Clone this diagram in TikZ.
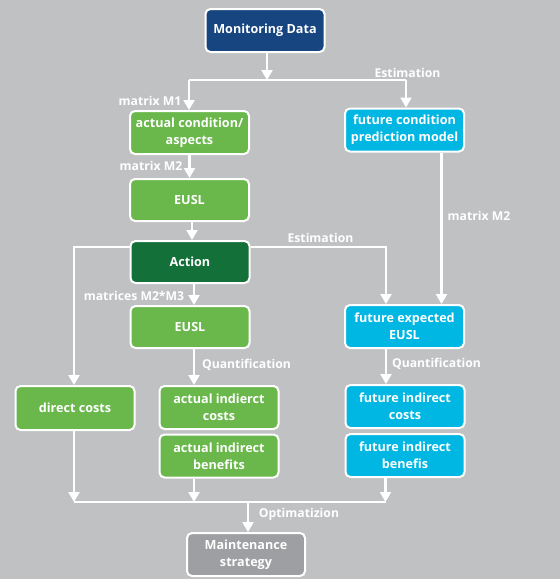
\documentclass[tikz,border=0pt]{standalone}
\usepackage{fontspec}
\setmainfont{Open Sans}
\usetikzlibrary{arrows.meta}
\definecolor{bg}{RGB}{192,193,195}
\definecolor{dblue}{RGB}{22,69,128}
\definecolor{lgreen}{RGB}{106,184,76}
\definecolor{dgreen}{RGB}{18,112,56}
\definecolor{cyanbox}{RGB}{0,182,226}
\definecolor{graybox}{RGB}{158,159,162}
\begin{document}
\begin{tikzpicture}[x=1pt,y=-1pt,
  box/.style={draw=white, line width=2pt, rounded corners=5pt, text=white,
    font=\bfseries\fontsize{12.6}{17}\selectfont, align=center, inner sep=0pt,
    minimum width=119pt, minimum height=43pt},
  lbl/.style={text=white, font=\bfseries\fontsize{12.2}{14}\selectfont, inner sep=0pt},
  arr/.style={draw=white, line width=2.2pt, -{Triangle[width=11pt,length=10pt]}},
  ln/.style={draw=white, line width=2.2pt}]
\fill[bg] (0,0) rectangle (560,579);
\useasboundingbox (0,0) rectangle (560,579);

% boxes
\node[box, fill=dblue] (md) at (265,30.5) {Monitoring Data};
\node[box, fill=lgreen] (ac) at (189.5,132.5) {actual condition/\\aspects};
\node[box, fill=cyanbox] (fc) at (404.5,130) {future condition\\prediction model};
\node[box, fill=lgreen, minimum height=42pt] (eu1) at (189.5,200) {EUSL};
\node[box, fill=dgreen, minimum height=42pt] (act) at (190,262) {Action};
\node[box, fill=lgreen, minimum height=42pt] (eu2) at (190,327) {EUSL};
\node[box, fill=cyanbox] (fe) at (404.5,326.5) {future expected\\EUSL};
\node[box, fill=lgreen, minimum height=44pt] (dc) at (75,408) {direct costs};
\node[box, fill=lgreen] (aic) at (219,407.5) {actual indierct\\costs};
\node[box, fill=lgreen] (aib) at (219,456) {actual indirect\\benefits};
\node[box, fill=cyanbox] (fic) at (405,406.5) {future indirect\\costs};
\node[box, fill=cyanbox] (fib) at (405,455.5) {future indirect\\benefis};
\node[box, fill=graybox, minimum width=118pt] (ms) at (246,554.5) {Maintenance\\strategy};

% junction coordinates
\coordinate (jm) at (267,80);
\coordinate (jl) at (189,80);
\coordinate (jr) at (406,80);
\coordinate (xa) at (189.5,0);
\coordinate (xb) at (192,0);
\coordinate (xc) at (194,0);
\coordinate (al) at (74,247);
\coordinate (ar) at (386,247);
\coordinate (fx) at (441.5,0);
\coordinate (bl) at (74,502);
\coordinate (bm) at (194,502);
\coordinate (br) at (385.5,502);
\coordinate (bo) at (248,502);

% connectors
\draw[ln] (jl) -- (jr);
\draw[arr] (md.south -| jm) -- (jm);
\draw[arr] (jl) -- (ac.north -| jl);
\draw[arr] (jr) -- (fc.north -| jr);
\draw[arr] (ac.south -| xa) -- (eu1.north -| xa);
\draw[arr] (eu1.south -| xb) -- (act.north -| xb);
\draw[arr] (act.south -| xc) -- (eu2.north -| xc);
\draw[arr] (act.west |- al) -| (dc.north -| al);
\draw[arr] (act.east |- ar) -| (fe.north -| ar);
\draw[arr] (fc.south -| fx) -- (fe.north -| fx);
\draw[arr] (eu2.south -| xc) -- (aic.north -| xc);
\draw[arr] (fe.south -| ar) -- (fic.north -| ar);
\draw[ln] (bl) -- (br);
\draw[arr] (dc.south -| bl) -- (bl);
\draw[arr] (aib.south -| bm) -- (bm);
\draw[arr] (fib.south -| br) -- (br);
\draw[arr] (bo) -- (ms.north -| bo);

% labels
\node[lbl] (l1) at (407.5,72.5) {Estimation};
\node[lbl] (l2) at (150,101) {matrix M1};
\node[lbl] (l3) at (151,166) {matrix M2};
\node[lbl] (l4) at (479,216) {matrix M2};
\node[lbl] (l5) at (320.5,237.5) {Estimation};
\node[lbl] (l6) at (134,296) {matrices M2*M3};
\node[lbl] (l7) at (246.5,365) {Quantification};
\node[lbl] (l8) at (436.5,364) {Quantification};
\node[lbl] (l9) at (299,514) {Optimatizion};
\end{tikzpicture}
\end{document}
